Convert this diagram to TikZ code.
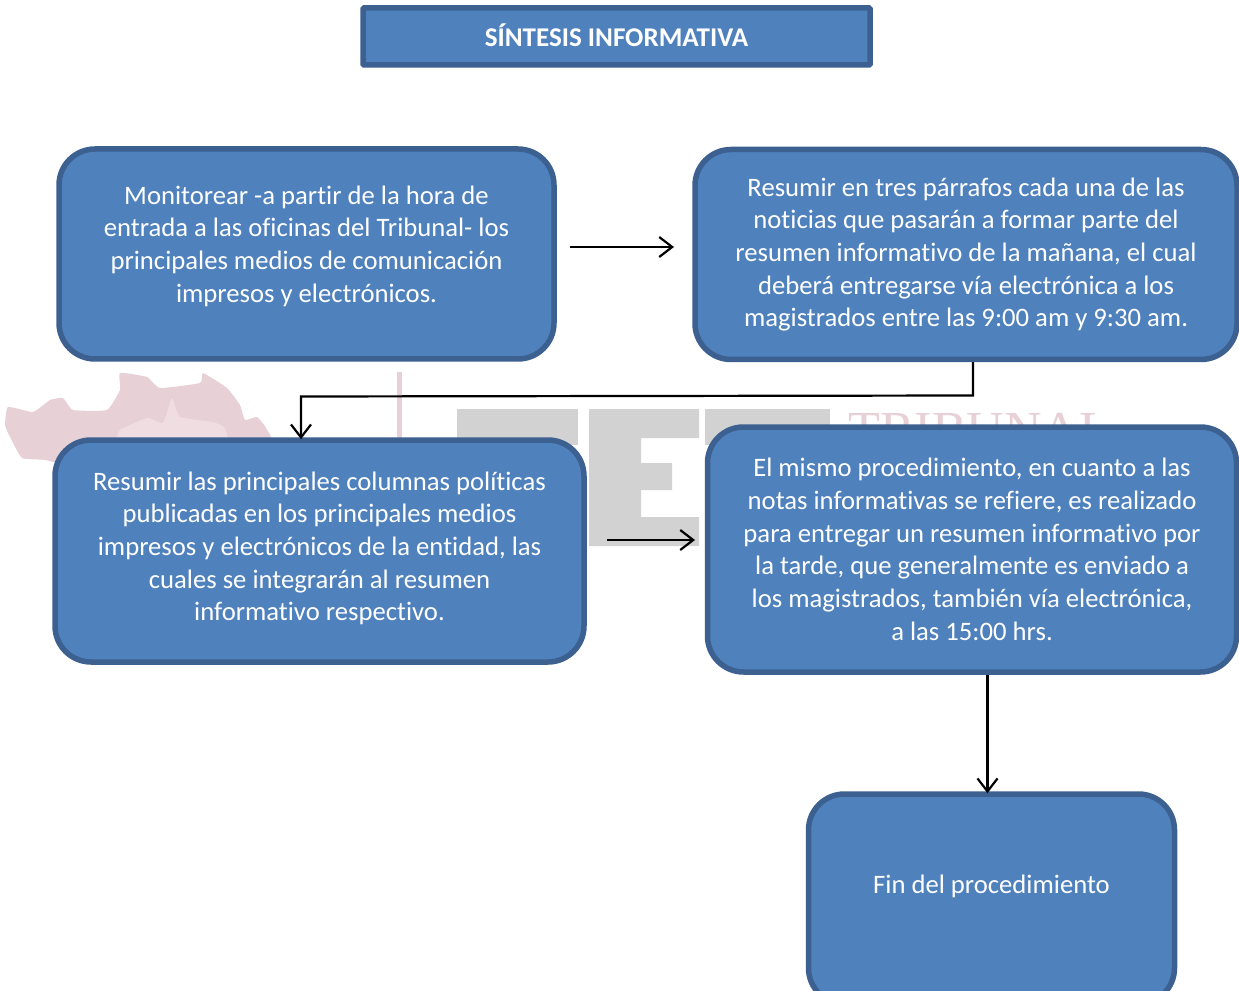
\documentclass[tikz,border=0pt]{standalone}
\usepackage{fontspec}
\setmainfont[Ligatures=NoCommon]{Carlito}
\newfontfamily\marcafont{Liberation Serif}
\usetikzlibrary{arrows.meta}
\def\px{0.75pt}
\definecolor{azulfondo}{HTML}{4F81BD}
\definecolor{azulborde}{HTML}{3C6090}
\definecolor{rosa}{HTML}{E7D0D6}
\definecolor{rosaclaro}{HTML}{EFDDE1}
\definecolor{gris}{HTML}{D2D2D2}
\tikzset{
  caja/.style={draw=azulborde, fill=azulfondo, line width=5.5*\px, rounded corners=36*\px, inner sep=0pt, text=white, align=center, font=\fontsize{20}{24.5}\selectfont},
  titulo/.style={caja, rounded corners=1*\px, text depth=2.75pt, font=\fontsize{20.3}{24.5}\selectfont\bfseries},
  flecha/.style={line width=2.2*\px, shorten >=-2*\px, -{Straight Barb[length=13*\px, width=20*\px, line width=2.2*\px]}}
}
\begin{document}
\begin{tikzpicture}[x=0.75pt, y=-0.75pt]
\useasboundingbox (0,0) rectangle (1239,991);
\clip (0,0) rectangle (1239,991);
% marca de agua
\fill[rosa] plot[smooth cycle, tension=0.25] coordinates {(5,425) (8,407) (33,412) (50,400) (63,398) (73,410) (107,410) (120,390) (120,373) (147,377) (160,388) (200,383) (203,373) (227,388) (240,405) (245,420) (257,417) (266,428) (266,445) (100,470) (45,460) (22,458) (10,437)};
\fill[rosaclaro] plot[smooth cycle, tension=0.25] coordinates {(172,398) (180,417) (213,422) (225,428) (224,445) (120,445) (120,430) (147,418) (163,423)};
\fill[rosa] (397,372) rectangle (402,445);
\fill[gris] (457,409) rectangle (578,445);
\fill[gris] (589,409) -- (699,409) -- (699,438) -- (641,438) -- (641,463) -- (672,463) -- (672,490) -- (641,490) -- (641,517) -- (699,517) -- (699,546) -- (589,546) -- cycle;
\fill[gris] (705,409) rectangle (830,445);
\node[inner sep=0pt, text=rosa, anchor=base west, font=\fontsize{39}{39}\marcafont] (marca) at (848,447) {TRIBUNAL};
% cajas
\node[titulo, minimum width=507*\px, minimum height=57*\px] (tit) at (616.5,36.5) {SÍNTESIS INFORMATIVA};
\node[caja, minimum width=495*\px, minimum height=210*\px, text depth=15pt] (monitoreo) at (306.5,254) {Monitorear -a partir de la hora de\\entrada a las oficinas del Tribunal- los\\principales medios de comunicación\\impresos y electrónicos.};
\node[caja, minimum width=542*\px, minimum height=210*\px] (manana) at (966,254.5) {Resumir en tres párrafos cada una de las\\noticias que pasarán a formar parte del\\resumen informativo de la mañana, el cual\\deberá entregarse vía electrónica a los\\magistrados entre las 9:00 am y 9:30 am.};
\node[caja, minimum width=529*\px, minimum height=222*\px, text depth=7pt] (columnas) at (319.5,551) {Resumir las principales columnas políticas\\publicadas en los principales medios\\impresos y electrónicos de la entidad, las\\cuales se integrarán al resumen\\informativo respectivo.};
\node[caja, minimum width=529*\px, minimum height=245*\px] (tarde) at (972,549.5) {El mismo procedimiento, en cuanto a las\\notas informativas se refiere, es realizado\\para entregar un resumen informativo por\\la tarde, que generalmente es enviado a\\los magistrados, también vía electrónica,\\a las 15:00 hrs.};
\node[caja, minimum width=366*\px, minimum height=210*\px, text depth=22pt] (fin) at (991.5,899) {Fin del procedimiento};
% flechas
\coordinate (a1) at (570,247);
\coordinate (a2) at (672,247);
\coordinate (b1) at (973,395.5);
\coordinate (b2) at (301,396.5);
\coordinate (c1) at (607,540);
\coordinate (c2) at (693,540);
\draw[flecha] (a1) -- (a2);
\draw[flecha] (manana.south -| b1) -- (b1) -- (b2) -- (columnas.north -| b2);
\draw[flecha] (c1) -- (c2);
\draw[flecha] (tarde.south -| fin.north) ++(-4,0) coordinate (d1) -- (d1 |- fin.north);
\end{tikzpicture}
\end{document}
